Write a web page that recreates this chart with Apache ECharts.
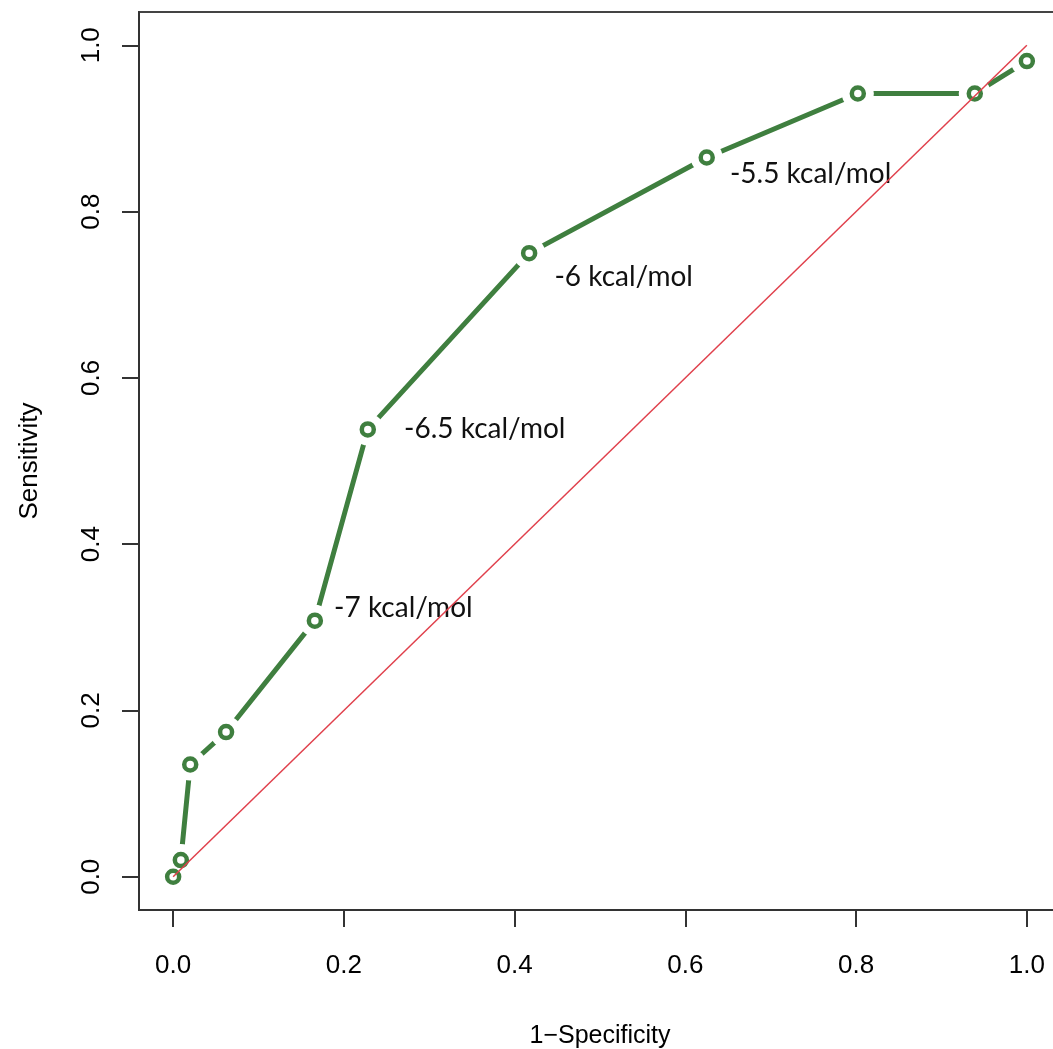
<!DOCTYPE html>
<html>
<head>
<meta charset="utf-8">
<script src="https://cdn.jsdelivr.net/npm/echarts@6/dist/echarts.min.js"></script>
<style>
  html, body { margin: 0; padding: 0; background: #fff; }
  #chart { width: 1053px; height: 1049px; }
</style>
</head>
<body>
<div id="chart"></div>
<script>
// ROC curve points (1-specificity, sensitivity)
const fpr = [0, 0.009, 0.020, 0.062, 0.166, 0.228, 0.417, 0.625, 0.802, 0.939, 1.0];
const tpr = [0, 0.020, 0.135, 0.174, 0.308, 0.538, 0.750, 0.865, 0.942, 0.942, 0.981];
// threshold annotations, one per point ('' = none)
const thresholds = ['', '', '', '', '-7 kcal/mol', '-6.5 kcal/mol', '-6 kcal/mol', '-5.5 kcal/mol', '', '', ''];
// chance diagonal
const diagX = [0, 1];
const diagY = [0, 1];
const ticks = [0, 0.2, 0.4, 0.6, 0.8, 1.0];

const green = '#3f7f3f';
const axisFont = 'Liberation Sans, Arial, Helvetica, sans-serif';

// where each annotation sits relative to its point
const labelOffset = {
  '-7 kcal/mol': [11, -13],
  '-6.5 kcal/mol': [28, 0],
  '-6 kcal/mol': [17, 24],
  '-5.5 kcal/mol': [15, 16]
};

const roc = fpr.map((x, i) => [x, tpr[i]]);
const ringData = roc.map((p, i) => {
  const t = thresholds[i];
  if (!t) return { value: p };
  return {
    value: p,
    label: {
      show: true,
      formatter: t,
      position: 'right',
      distance: 0,
      offset: labelOffset[t]
    }
  };
});

const chart = echarts.init(document.getElementById('chart'));
chart.setOption({
  animation: false,
  grid: {
    left: 139, top: 12, width: 922, height: 898,
    outerBoundsMode: 'none',
    show: true, borderColor: '#444', borderWidth: 2, backgroundColor: '#fff'
  },
  xAxis: {
    type: 'value', min: -0.04, max: 1.04,
    splitLine: { show: false },
    axisLine: { show: true, onZero: false, lineStyle: { color: '#333', width: 2 } },
    axisTick: { show: true, length: 17, customValues: ticks, lineStyle: { color: '#333', width: 2 } },
    axisLabel: {
      customValues: ticks, margin: 43,
      formatter: v => v.toFixed(1),
      fontSize: 26, color: '#000', fontFamily: axisFont
    },
    name: '1\u2212Specificity', nameLocation: 'middle', nameGap: 114,
    nameTextStyle: { fontSize: 25, color: '#000', fontFamily: axisFont }
  },
  yAxis: {
    type: 'value', min: -0.04, max: 1.04,
    splitLine: { show: false },
    axisLine: { show: true, onZero: false, lineStyle: { color: '#333', width: 2 } },
    axisTick: { show: true, length: 17, customValues: ticks, lineStyle: { color: '#333', width: 2 } },
    axisLabel: {
      customValues: ticks, margin: 34, rotate: 90,
      formatter: v => v.toFixed(1),
      fontSize: 26, color: '#000', fontFamily: axisFont
    },
    name: 'Sensitivity', nameLocation: 'middle', nameGap: 96,
    nameTextStyle: { fontSize: 26, color: '#000', fontFamily: axisFont }
  },
  series: [
    {
      // connecting line
      type: 'line', data: roc, showSymbol: false, z: 1, silent: true,
      lineStyle: { color: green, width: 5 }
    },
    {
      // white gap round each point, like R type = "b"
      type: 'scatter', data: roc, symbolSize: 32, z: 2, silent: true,
      itemStyle: { color: '#fff', opacity: 1 }
    },
    {
      type: 'scatter', data: ringData, symbolSize: 12, z: 3, silent: true,
      itemStyle: { color: '#fff', borderColor: green, borderWidth: 4.5, opacity: 1 },
      label: { fontSize: 28, color: '#111', fontFamily: 'Lato, Open Sans, sans-serif' }
    },
    {
      type: 'line', data: diagX.map((x, i) => [x, diagY[i]]), showSymbol: false, z: 4, silent: true,
      lineStyle: { color: '#e0404c', width: 1.5 }
    }
  ]
});
</script>
</body>
</html>
